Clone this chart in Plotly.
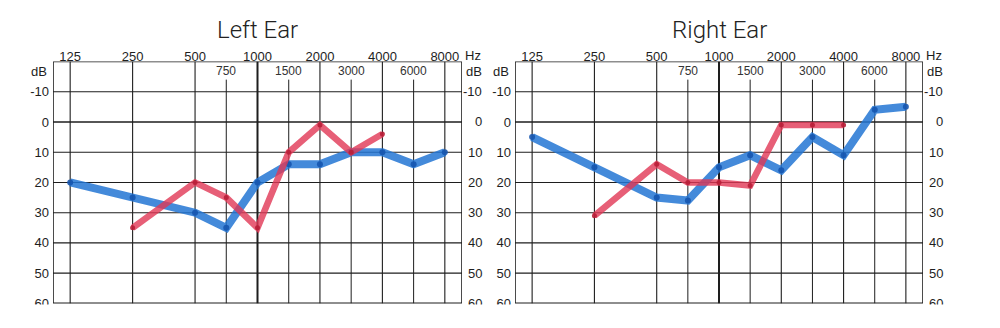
import math
import plotly.graph_objects as go

# Audiogram frequencies (Hz) and hearing levels (dB HL)
freqs = [125, 250, 500, 750, 1000, 1500, 2000, 3000, 4000, 6000, 8000]
octave_freqs = [125, 250, 500, 1000, 2000, 4000, 8000]
mid_freqs = [750, 1500, 3000, 6000]
db_ticks = [-10, 0, 10, 20, 30, 40, 50, 60]

left_blue_freqs = [125, 250, 500, 750, 1000, 1500, 2000, 3000, 4000, 6000, 8000]
left_blue_db = [20, 25, 30, 35, 20, 14, 14, 10, 10, 14, 10]
left_red_freqs = [250, 500, 750, 1000, 1500, 2000, 3000, 4000]
left_red_db = [35, 20, 25, 35, 10, 1, 10, 4]

right_blue_freqs = [125, 250, 500, 750, 1000, 1500, 2000, 3000, 4000, 6000, 8000]
right_blue_db = [5, 15, 25, 26, 15, 11, 16, 5, 11, -4, -5]
right_red_freqs = [250, 500, 750, 1000, 1500, 2000, 3000, 4000]
right_red_db = [31, 14, 20, 20, 21, 1, 1, 1]

panels = [
    ("Left Ear", left_blue_freqs, left_blue_db, left_red_freqs, left_red_db),
    ("Right Ear", right_blue_freqs, right_blue_db, right_red_freqs, right_red_db),
]


def col(f):
    """Audiogram column: octaves one unit apart (2 half-steps), 1.5x freqs midway."""
    octave = math.log2(f / 125)
    if abs(octave - round(octave)) < 1e-9:
        return 2 * octave
    return 2 * math.log2(f / 1.5 / 125) + 1


W, H = 1000, 328
domains_x = [(53 / W, 462 / W), (515 / W, 923 / W)]
dom_y = (1 - 311 / H, 1 - 63 / H)
X_RANGE = [-0.55, 12.55]
Y_TOP, Y_BOT = -20, 60

BLUE = "rgba(35,118,212,0.85)"
BLUE_DOT = "rgba(22,85,175,0.9)"
RED = "rgba(225,55,85,0.80)"
RED_DOT = "rgba(185,30,55,0.9)"
INK = "#1e1e1e"
NUM_FONT = "Liberation Sans"
num_font = dict(family=NUM_FONT, size=13, color=INK)

fig = go.Figure()
shapes, annotations = [], []

for i, (title, bf, bdb, rf, rdb) in enumerate(panels):
    n = "" if i == 0 else str(i + 1)
    xa, ya = "x" + n, "y" + n
    ya_right = "y" + str(i + 3)

    fig.add_trace(go.Scatter(
        x=[col(f) for f in bf], y=bdb, xaxis=xa, yaxis=ya, mode="lines+markers",
        line=dict(color=BLUE, width=8), marker=dict(color=BLUE_DOT, size=6),
        hoverinfo="skip", showlegend=False))
    fig.add_trace(go.Scatter(
        x=[col(f) for f in rf], y=rdb, xaxis=xa, yaxis=ya, mode="lines+markers",
        line=dict(color=RED, width=6.5), marker=dict(color=RED_DOT, size=5),
        hoverinfo="skip", showlegend=False))
    # empty trace so the right-hand scale axis gets its own subplot
    fig.add_trace(go.Scatter(x=[None], y=[None], xaxis=xa, yaxis=ya_right, mode="lines",
                             hoverinfo="skip", showlegend=False))

    fig.layout["xaxis" + n] = dict(
        domain=domains_x[i], range=X_RANGE, side="top", anchor=ya,
        tickvals=[col(f) for f in octave_freqs], ticktext=[str(f) for f in octave_freqs],
        showgrid=False, zeroline=False, showline=False, ticks="",
        tickfont=num_font, ticklabelstandoff=-3)
    fig.layout["yaxis" + n] = dict(
        domain=dom_y, range=[Y_BOT, Y_TOP], anchor=xa,
        tickvals=db_ticks, ticktext=[str(v) for v in db_ticks],
        showgrid=False, zeroline=False, showline=False, ticks="",
        tickfont=num_font, ticklabelstandoff=3)
    # right-hand scale: bottom label on an overlaid axis so the trimmed edge cuts it
    fig.layout["yaxis" + str(i + 3)] = dict(
        overlaying=ya, side="right", anchor=xa, range=[Y_BOT, Y_TOP],
        tickvals=db_ticks[-1:], ticktext=[str(v) for v in db_ticks[-1:]],
        showgrid=False, zeroline=False, showline=False, ticks="",
        tickfont=num_font, ticklabelstandoff=5)

    # horizontal dB lines
    for v in db_ticks[:-1]:
        shapes.append(dict(type="line", xref=xa, yref=ya, x0=X_RANGE[0], x1=X_RANGE[1],
                           y0=v, y1=v, line=dict(color=INK, width=1.6 if v == 0 else 1.1),
                           layer="below"))
    # octave lines span full height, 1000 Hz heavier
    for f in octave_freqs:
        shapes.append(dict(type="line", xref=xa, yref=ya, x0=col(f), x1=col(f),
                           y0=Y_TOP, y1=Y_BOT,
                           line=dict(color=INK, width=2 if f == 1000 else 1.1), layer="below"))
    # inter-octave lines start below their labels
    for f in mid_freqs:
        shapes.append(dict(type="line", xref=xa, yref=ya, x0=col(f), x1=col(f),
                           y0=-14, y1=Y_BOT, line=dict(color=INK, width=1), layer="below"))
        annotations.append(dict(text=str(f), xref=xa, yref=ya, x=col(f), y=-16.8,
                                showarrow=False, xanchor="center", yanchor="middle",
                                font=dict(family=NUM_FONT, size=12, color="#333")))
    # frame
    shapes.append(dict(type="rect", xref=xa, yref=ya, x0=X_RANGE[0], x1=X_RANGE[1],
                       y0=Y_TOP, y1=Y_BOT, line=dict(color=INK, width=1.6), layer="below"))

    # right-hand dB scale, right-aligned
    for v in db_ticks[:-1]:
        annotations.append(dict(text=str(v), xref=xa + " domain", yref=ya, x=1, y=v,
                                xshift=22, xanchor="right", yanchor="middle", showarrow=False,
                                font=num_font))
    for side, shift in [(0, -4), (1, 22)]:
        annotations.append(dict(text="dB", xref=xa + " domain", yref=ya, x=side, y=-16.8,
                                xshift=shift, xanchor="right", yanchor="middle", showarrow=False,
                                font=num_font))
    annotations.append(dict(text="Hz", xref=xa + " domain", yref="paper", x=1, y=1 - 56.5 / H,
                            xshift=1, xanchor="left", yanchor="middle", showarrow=False,
                            font=num_font))
    # panel title over the 1000 Hz column
    annotations.append(dict(text=title, xref=xa, yref="paper", x=col(1000), y=1 - 31 / H,
                            xanchor="center", yanchor="middle", showarrow=False,
                            font=dict(family="Roboto", size=24, weight=300, color="#222")))

# the sheet is trimmed just below the 60 dB line
shapes.append(dict(type="rect", xref="paper", yref="paper", x0=0, x1=1, y0=0,
                   y1=1 - 312 / H, fillcolor="white", line=dict(width=0), layer="above"))

fig.update_layout(width=W, height=H, autosize=False, margin=dict(l=0, r=0, t=0, b=0),
                  paper_bgcolor="white", plot_bgcolor="white",
                  shapes=shapes, annotations=annotations)
fig.write_html("out.html")
